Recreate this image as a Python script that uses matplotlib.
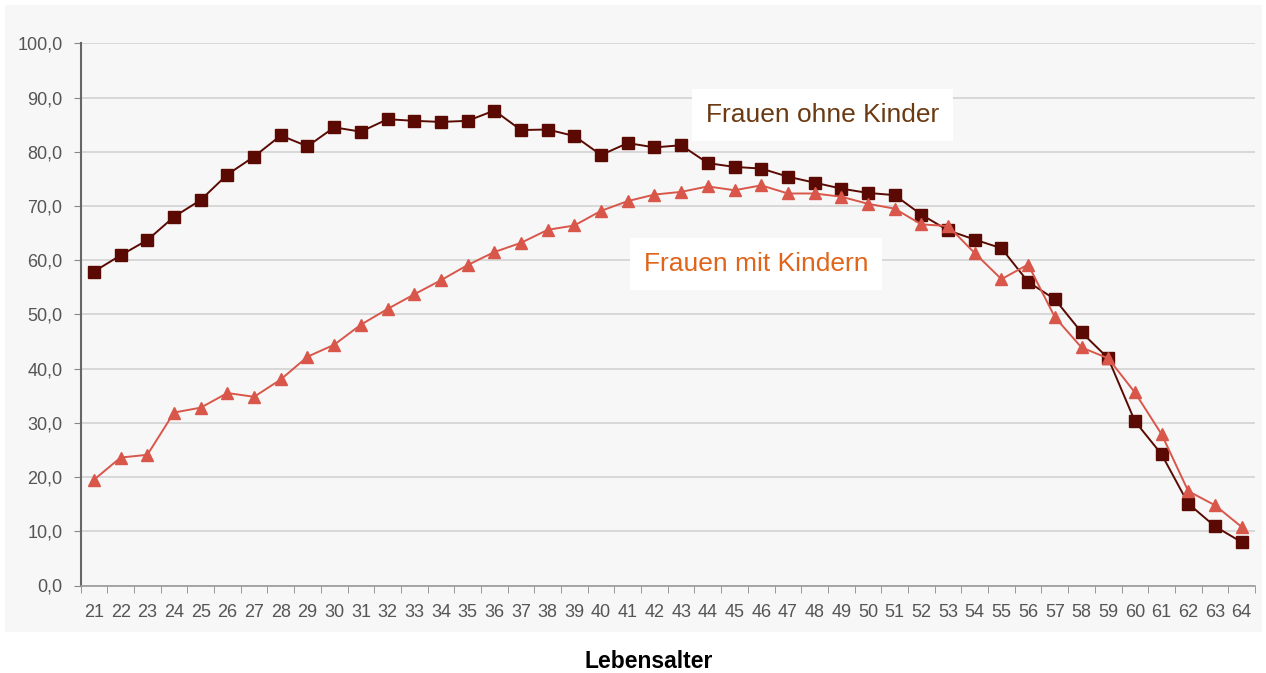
import matplotlib.pyplot as plt
import numpy as np
from matplotlib.patches import Rectangle
from matplotlib.ticker import FuncFormatter

# --- data ---
ages = list(range(21, 65))
ohne_kinder = [57.9, 60.9, 63.7, 68.0, 71.1, 75.8, 79.1, 83.0, 81.0, 84.5,
               83.7, 86.0, 85.7, 85.5, 85.7, 87.6, 84.0, 84.1, 82.9, 79.4,
               81.6, 80.8, 81.2, 77.9, 77.2, 76.9, 75.4, 74.3, 73.2, 72.4,
               72.0, 68.4, 65.5, 63.8, 62.2, 56.0, 52.8, 46.7, 41.9, 30.3,
               24.2, 15.1, 10.9, 8.0]
mit_kindern = [19.5, 23.6, 24.1, 31.9, 32.8, 35.5, 34.8, 38.0, 42.2, 44.4,
               48.1, 51.0, 53.7, 56.3, 59.1, 61.5, 63.2, 65.6, 66.4, 69.1,
               70.9, 72.1, 72.6, 73.6, 72.9, 73.8, 72.3, 72.3, 71.7, 70.4,
               69.5, 66.6, 66.3, 61.3, 56.5, 59.2, 49.5, 43.9, 41.9, 35.6,
               27.9, 17.4, 14.8, 10.8]
label_ohne = "Frauen ohne Kinder"
label_mit = "Frauen mit Kindern"

bg = "#f7f7f7"
plt.rcParams['font.family'] = ['Liberation Sans', 'DejaVu Sans']

fig = plt.figure(figsize=(12.66, 6.73), dpi=100)
# grey panel behind the chart
fig.patches.append(Rectangle((5 / 1266, 1 - 632 / 673), 1257 / 1266, 627 / 673,
                             transform=fig.transFigure, facecolor=bg,
                             edgecolor="none", zorder=-10))
ax = fig.add_axes([80.6 / 1266, 1 - 585.5 / 673, (1255 - 80.6) / 1266, (585.5 - 43.3) / 673])
ax.set_facecolor(bg)

x = np.arange(len(ages))
ax.plot(x, ohne_kinder, color="#5a0a02", marker="s", markersize=9, linewidth=1.4,
        zorder=3)
ax.plot(x, mit_kindern, color="#d9574a", marker="^", markersize=8, linewidth=1.4,
        zorder=4)

ax.set_xlim(-0.5, len(ages) - 0.5)
ax.set_ylim(0, 100)
ax.set_yticks(np.arange(0, 101, 10))
ax.yaxis.set_major_formatter(FuncFormatter(lambda v, p: f"{v:.1f}".replace(".", ",")))
ax.grid(axis="y", color="#d2d2d2", linewidth=1.2)
ax.set_axisbelow(True)

ax.set_xticks(x)
ax.set_xticklabels([str(a) for a in ages])
ax.set_xticks(np.arange(-0.5, len(ages), 1), minor=True)
ax.tick_params(axis="x", which="major", length=0, pad=13, labelsize=13, labelcolor="#555555")
ax.tick_params(axis="x", which="minor", length=5, color="#888888", direction="out")
ax.tick_params(axis="y", length=5, color="#888888", labelsize=13, labelcolor="#555555", pad=8)

for side in ["top", "right"]:
    ax.spines[side].set_visible(False)
ax.spines["left"].set_color("#666666")
ax.spines["left"].set_linewidth(1.5)
ax.spines["bottom"].set_color("#999999")
ax.spines["bottom"].set_linewidth(1.2)

# white-boxed series labels
ax.text(27.3, 86.8, label_ohne, color="#6b3a12", fontsize=19, ha="center", va="center",
        bbox=dict(facecolor="white", edgecolor="none", pad=10), zorder=5)
ax.text(24.8, 59.3, label_mit, color="#e0651a", fontsize=19, ha="center", va="center",
        bbox=dict(facecolor="white", edgecolor="none", pad=10), zorder=5)

fig.text(649 / 1266, 1 - 661 / 673, "Lebensalter", fontsize=16.5, fontweight="bold",
         ha="center", va="center", color="black")

fig.savefig("out.png", dpi=100, facecolor="white")
